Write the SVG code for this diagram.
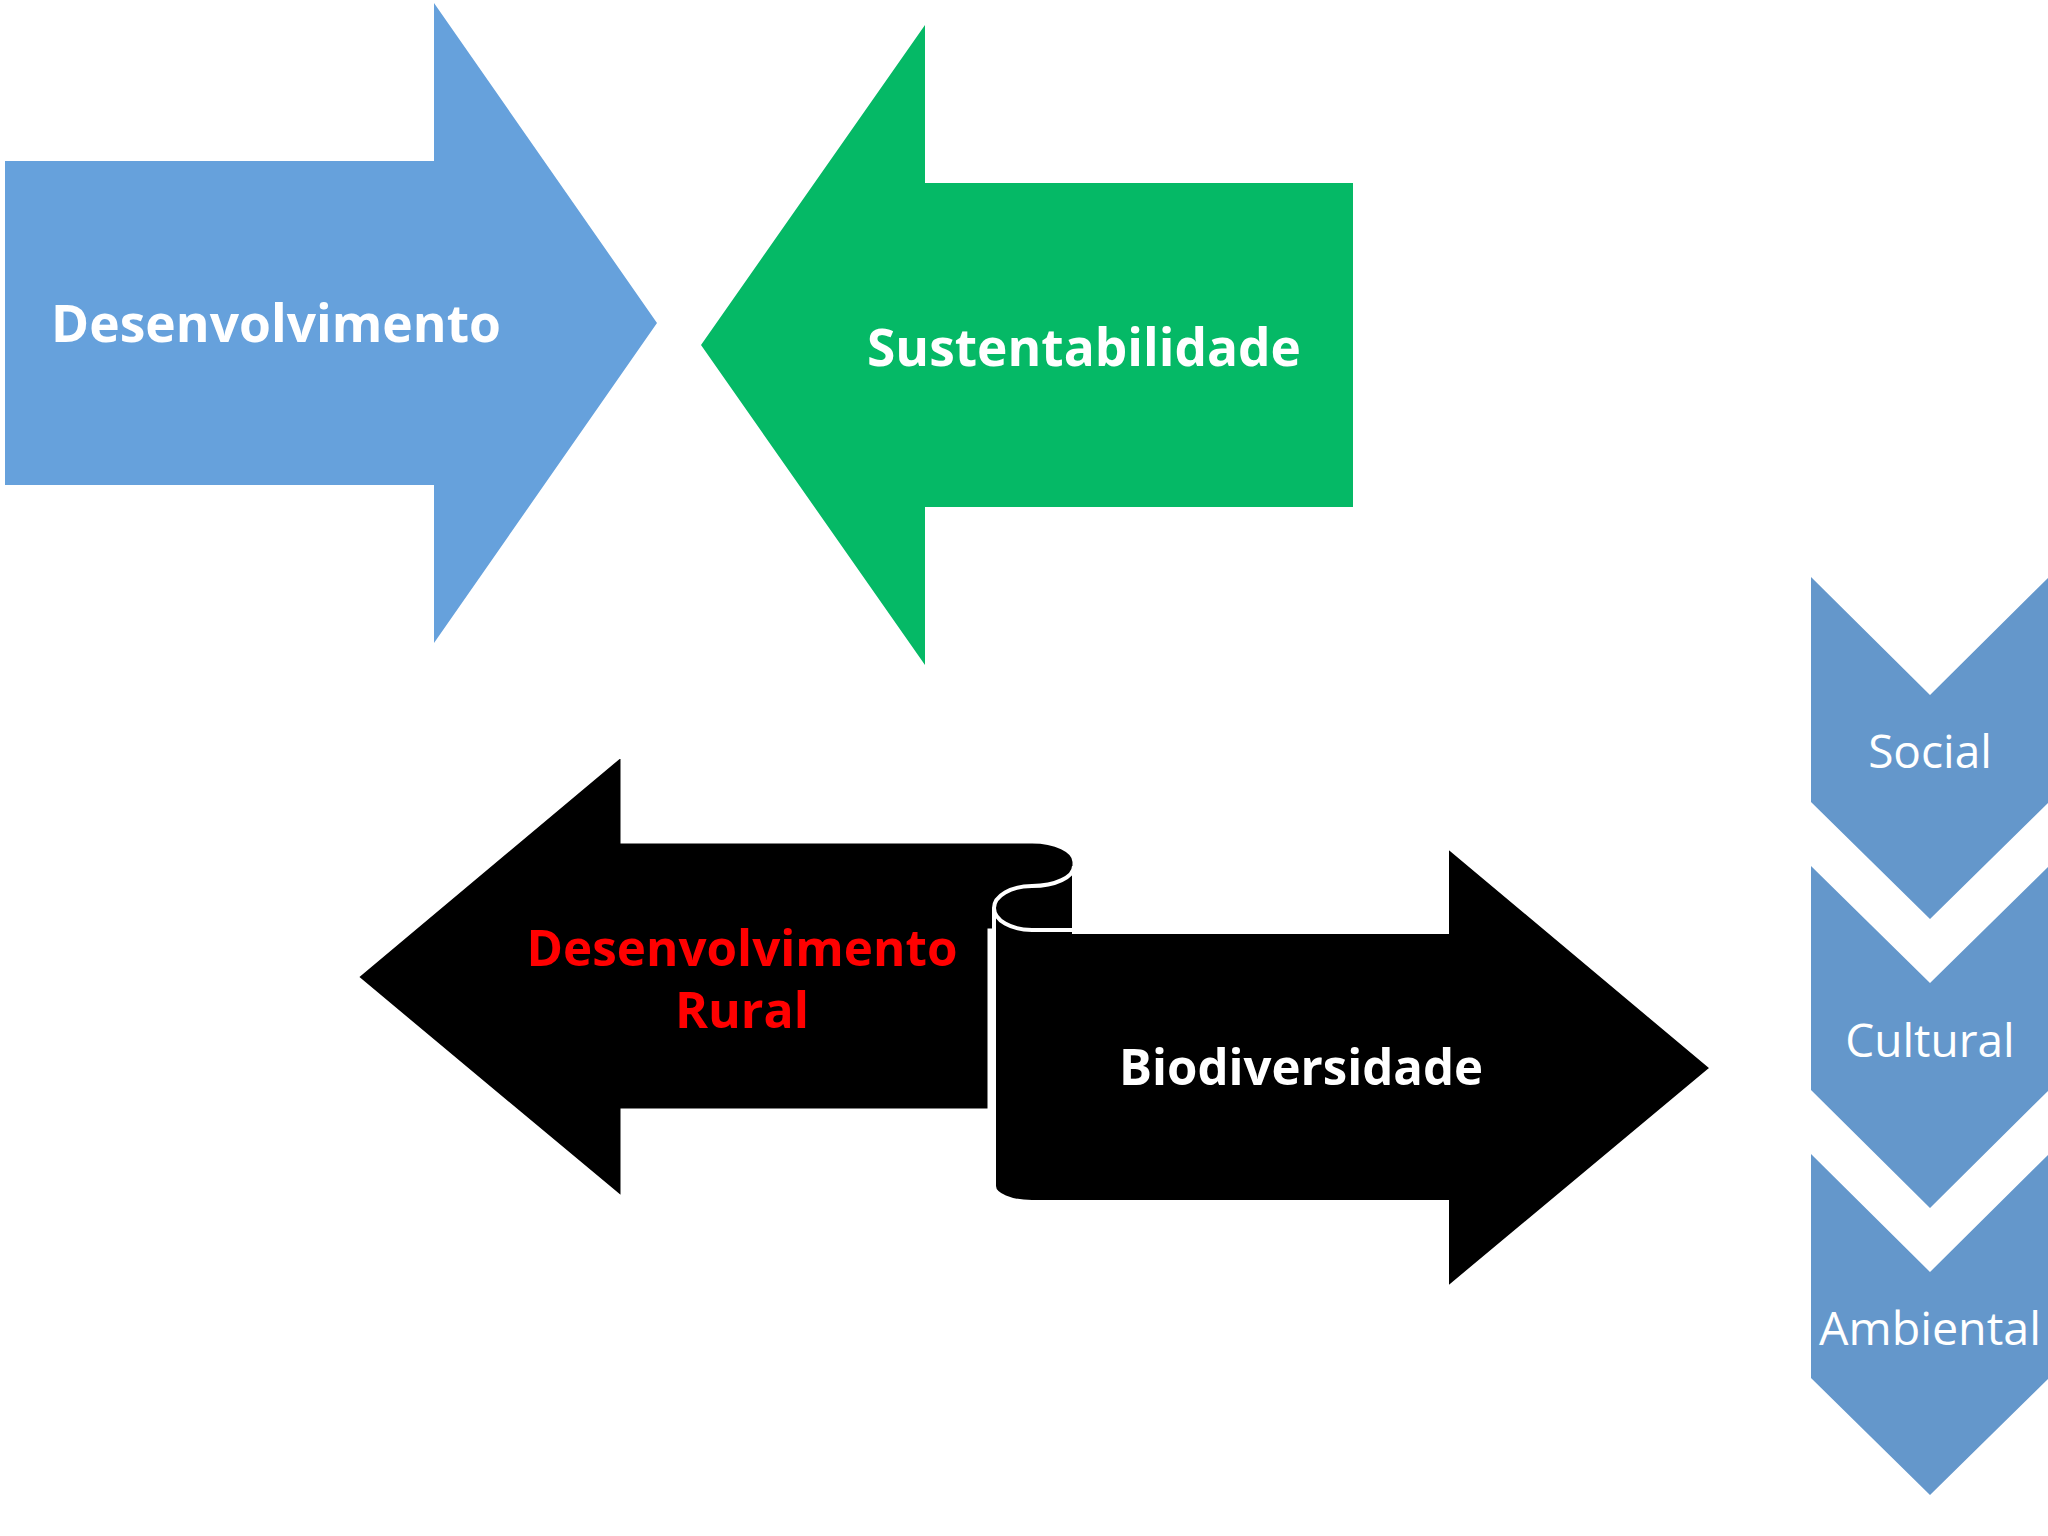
<svg xmlns="http://www.w3.org/2000/svg" width="2048" height="1536" viewBox="0 0 2048 1536">
<style>
.b{font-family:"Open Sans","Liberation Sans",sans-serif;font-weight:bold;text-anchor:middle}
.c{font-family:"Open Sans","Liberation Sans",sans-serif;fill:#ffffff;font-size:46px;text-anchor:middle}
.chev{fill:#6497cb}
</style>
<rect width="2048" height="1536" fill="#ffffff"/>
<g id="desenvolvimento">
<polygon points="5,161 434,161 434,3 657,323 434,643 434,485 5,485" fill="#66a1dc"/>
<text class="b" x="276" y="342" font-size="52" fill="#ffffff" textLength="450" lengthAdjust="spacingAndGlyphs">Desenvolvimento</text>
</g>
<g id="sustentabilidade">
<polygon points="701,345 925,25 925,183 1353,183 1353,507 925,507 925,665" fill="#05b966"/>
<text class="b" x="1084" y="366" font-size="52" fill="#ffffff" textLength="434" lengthAdjust="spacingAndGlyphs">Sustentabilidade</text>
</g>
<g id="desenvolvimento-rural">
<path d="M357,977 L622,755 L622,842 L1032,842 A42,20 0 0 1 1074,862 L1074,930 L989,930 L989,1110 L622,1110 L622,1198 Z" fill="#000000" stroke="#ffffff" stroke-width="3"/>
<text class="b" x="742" y="966" font-size="50" fill="#ff0000" textLength="431" lengthAdjust="spacingAndGlyphs">Desenvolvimento</text>
<text class="b" x="742" y="1028" font-size="50" fill="#ff0000">Rural</text>
</g>
<g id="biodiversidade">
<path d="M1074,932 L1447,932 L1447,846 L1712,1068 L1447,1289 L1447,1202 L1032,1202 A38,16 0 0 1 994,1186 L994,908 A38,22 0 0 1 1032,886 A42,20 0 0 0 1074,866 Z" fill="#000000" stroke="#ffffff" stroke-width="4"/>
<path d="M994,908 A38,22 0 0 0 1032,930 L1074,930" fill="none" stroke="#ffffff" stroke-width="4"/>
<text class="b" x="1301" y="1085" font-size="50" fill="#ffffff" textLength="364" lengthAdjust="spacingAndGlyphs">Biodiversidade</text>
</g>
<g id="social">
<polygon class="chev" points="1811,577 1930,695 2049,577 2049,802 1930,919 1811,802"/>
<text class="c" x="1930" y="768">Social</text>
</g>
<g id="cultural">
<polygon class="chev" points="1811,866 1930,983 2049,866 2049,1090 1930,1208 1811,1090"/>
<text class="c" x="1930" y="1057">Cultural</text>
</g>
<g id="ambiental">
<polygon class="chev" points="1811,1154 1930,1272 2049,1154 2049,1378 1930,1495 1811,1378"/>
<text class="c" x="1930" y="1345" textLength="222" lengthAdjust="spacingAndGlyphs">Ambiental</text>
</g>
<g id="connectors"/>
</svg>
